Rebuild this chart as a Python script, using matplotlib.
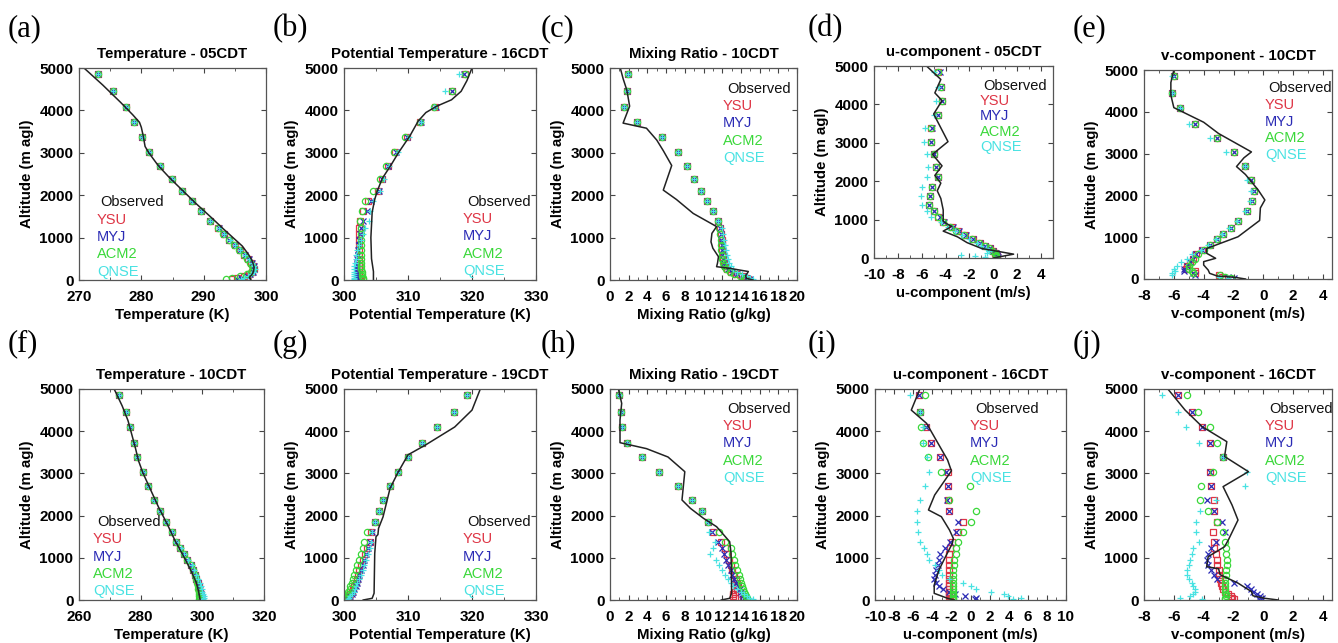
import matplotlib.pyplot as plt
from matplotlib.ticker import AutoMinorLocator

plt.rcParams['font.family'] = ['Liberation Sans', 'DejaVu Sans']
plt.rcParams['axes.unicode_minus'] = False

W, H = 1338, 643

# model levels (m agl)
Z = [4850, 4460, 4090, 3720, 3380, 3030, 2700, 2380, 2110, 1860, 1620, 1385,
     1225, 1080, 950, 820, 700, 590, 490, 400, 320, 250, 190, 135, 90, 50, 20]

# (a) temperature 05CDT
a_obs_z = [5000, 4600, 4200, 3900, 3720, 3600, 3400, 3150, 3000, 2700, 2400, 2100, 1800,
           1450, 1200, 1000, 800, 600, 450, 300, 200, 120, 60, 20, 0]
a_obs = [270.8, 273.8, 276.6, 278.6, 279.7, 280.0, 280.3, 280.6, 281.2, 282.7, 284.6, 286.7, 288.8,
         291.4, 293.2, 294.7, 296.2, 297.2, 297.8, 298.1, 298.0, 297.7, 297.3, 297.6, 297.5]
a_top = [273.0, 275.5, 277.6, 278.9, 280.1, 281.3, 283.0, 284.9, 286.6, 288.1, 289.6, 291.0]
a_ysu = a_top + [292.3, 293.2, 294.1, 295.0, 295.8, 296.5, 297.1, 297.6, 297.9, 298.0, 297.8, 297.3, 296.4, 295.4, 294.6]
a_myj = a_top + [292.4, 293.2, 294.1, 295.0, 295.8, 296.6, 297.2, 297.7, 298.0, 298.0, 297.9, 297.5, 296.9, 296.0, 295.4]
a_acm2 = a_top + [292.3, 293.1, 294.0, 294.9, 295.7, 296.4, 297.0, 297.5, 297.8, 297.9, 297.6, 297.0, 295.8, 294.5, 293.6]
a_qnse = a_top + [292.5, 293.3, 294.2, 295.1, 295.9, 296.7, 297.3, 297.8, 298.1, 298.2, 298.0, 297.6, 297.1, 296.4, 296.0]

# (b) potential temperature 16CDT
b_obs_z = [5000, 4700, 4450, 4250, 4100, 3950, 3750, 3400, 3000, 2700, 2400, 2100, 1900, 1600, 1000, 500, 200, 0]
b_obs = [320.0, 319.2, 318.3, 316.8, 314.5, 312.8, 311.6, 310.3, 308.5, 307.3, 306.0, 305.2, 304.8, 304.4, 304.2, 304.3, 304.6, 304.6]
b_ysu = [318.9, 316.9, 314.2, 311.9, 309.8, 308.0, 306.8, 305.9, 305.3, 303.8, 303.0, 302.5,
         302.4, 302.4, 302.4, 302.4, 302.4, 302.4, 302.4, 302.3, 302.3, 302.3, 302.3, 302.3, 302.4, 302.5, 302.6]
b_myj = [318.8, 316.8, 314.3, 312.0, 309.9, 308.1, 306.9, 306.0, 305.4, 304.2, 303.6, 303.0,
         302.6, 302.5, 302.4, 302.3, 302.2, 302.2, 302.1, 302.1, 302.0, 302.0, 302.0, 302.0, 302.1, 302.2, 302.3]
b_acm2 = [318.9, 316.9, 314.1, 311.8, 309.6, 307.8, 306.6, 305.7, 304.6, 303.3, 302.8, 302.5,
          302.6, 302.6, 302.6, 302.6, 302.6, 302.6, 302.7, 302.7, 302.7, 302.7, 302.8, 302.8, 302.8, 302.9, 302.9]
b_qnse = [318.0, 315.8, 314.0, 312.0, 310.2, 308.4, 307.1, 306.2, 305.6, 304.5, 304.0, 303.9,
          303.3, 302.9, 302.6, 302.3, 302.1, 301.9, 301.8, 301.7, 301.6, 301.5, 301.5, 301.5, 301.5, 301.6, 301.6]

# (c) mixing ratio 10CDT
c_obs_z = [5000, 4750, 4480, 4100, 3700, 3580, 3300, 3050, 2700, 2120, 1900, 1570, 1260, 1100,
           900, 750, 550, 400, 314, 275, 200, 100, 40, 0]
c_obs = [1.1, 1.4, 1.8, 2.1, 1.4, 3.9, 5.0, 5.7, 6.6, 5.7, 7.1, 8.9, 11.4, 10.9,
         10.8, 11.0, 11.6, 11.5, 11.4, 12.8, 14.8, 14.5, 14.6, 15.3]
c_top = [1.9, 1.8, 1.5, 2.9, 5.6, 7.3, 8.2, 9.0, 9.7, 10.4, 11.0, 11.5]
c_ysu = c_top + [11.8, 11.9, 12.0, 12.0, 12.0, 12.1, 12.1, 12.2, 12.3, 12.5, 12.9, 13.5, 14.1, 14.5, 14.8]
c_myj = c_top + [11.8, 11.9, 11.9, 12.0, 12.0, 12.0, 12.1, 12.2, 12.3, 12.6, 13.0, 13.6, 14.2, 14.7, 15.0]
c_acm2 = c_top + [11.7, 11.8, 11.9, 11.9, 11.9, 12.0, 12.0, 12.1, 12.2, 12.4, 12.8, 13.3, 13.9, 14.3, 14.5]
c_qnse = c_top + [12.0, 12.1, 12.2, 12.3, 12.4, 12.5, 12.6, 12.7, 12.9, 13.2, 13.6, 14.1, 14.6, 15.0, 15.3]

# (d) u-component 05CDT
d_obs_z = [5000, 4650, 4300, 4100, 3750, 3030, 2700, 2400, 2150, 1950, 1750, 1550, 1250,
           950, 820, 700, 550, 400, 250, 100, 0]
d_obs = [-5.6, -4.4, -4.9, -4.3, -5.0, -3.8, -5.1, -4.3, -4.9, -4.4, -4.7, -4.4, -4.2,
         -4.2, -3.5, -4.2, -3.0, -2.2, -1.0, 1.7, 0.0]
d_ysu = [-4.6, -4.4, -4.3, -4.6, -5.2, -5.2, -5.0, -4.8, -4.6, -5.1, -5.3, -5.4, -5.0, -4.6,
         -4.2, -3.5, -3.0, -2.4, -1.7, -1.1, -0.7, -0.3, 0.0, 0.1, 0.2, 0.3, 0.3]
d_myj = [-4.5, -4.4, -4.3, -4.6, -5.1, -5.2, -5.0, -4.8, -4.6, -5.1, -5.3, -5.4, -5.0, -4.5,
         -4.1, -3.4, -2.9, -2.3, -1.7, -1.1, -0.7, -0.3, 0.0, 0.2, 0.3, 0.3, 0.4]
d_acm2 = [-4.6, -4.4, -4.3, -4.6, -5.2, -5.2, -5.0, -4.8, -4.6, -5.1, -5.3, -5.4, -5.0, -4.6,
          -4.2, -3.6, -3.1, -2.5, -1.8, -1.2, -0.7, -0.4, -0.1, 0.1, 0.2, 0.2, 0.2]
d_qnse = [-5.0, -4.6, -4.8, -5.0, -5.7, -5.8, -5.6, -5.5, -5.6, -6.0, -6.1, -6.0, -5.6, -5.2,
          -4.4, -3.8, -3.2, -2.6, -2.0, -1.4, -1.0, -0.6, -0.4, -0.5, -2.7, -1.5, -0.7]

# (e) v-component 10CDT
e_obs_z = [5000, 4700, 4400, 4100, 3750, 3480, 3040, 2900, 2690, 2500, 2130, 1890, 1700, 1400,
           1010, 730, 615, 495, 415, 335, 215, 136, 72, 40, 0]
e_obs = [-6.0, -6.2, -6.2, -6.0, -4.0, -3.0, -0.8, -1.3, -1.8, -1.2, -0.35, 0.1, -0.2, -0.25,
         -1.7, -3.8, -3.8, -3.2, -4.0, -4.0, -3.7, -3.6, -3.1, -1.9, -1.2]
e_top = [-6.0, -6.1, -5.6, -4.6, -3.1, -1.95, -1.2, -0.8, -0.65, -0.75, -1.1, -1.7]
e_ysu = e_top + [-2.2, -2.7, -3.1, -3.6, -4.1, -4.5, -4.7, -4.9, -5.1, -5.2, -4.6, -4.6, -3.0, -2.8, -2.6]
e_myj = e_top + [-2.2, -2.7, -3.1, -3.6, -4.1, -4.5, -4.7, -4.9, -5.1, -5.3, -5.35, -4.7, -4.6, -2.4, -2.0]
e_acm2 = e_top + [-2.2, -2.7, -3.1, -3.6, -4.0, -4.4, -4.6, -4.8, -5.0, -5.0, -4.8, -4.7, -2.9, -2.6, -2.2]
e_qnse = [-6.1, -6.1, -5.6, -5.0, -3.6, -2.5, -1.2, -1.1, -0.8, -0.9, -1.2, -1.8,
          -2.3, -2.8, -3.2, -3.7, -4.2, -4.8, -5.1, -5.5, -5.8, -6.0, -5.9, -6.1, -6.1, -3.0, -2.4]

# (f) temperature 10CDT
f_obs_z = [5000, 4600, 4250, 3900, 3600, 3300, 3000, 2600, 2200, 1800, 1400, 1000, 700, 400, 200, 80, 0]
f_obs = [271.4, 274.0, 275.9, 277.2, 278.3, 279.3, 280.8, 283.3, 285.8, 288.6, 291.2, 294.2, 296.3,
         298.1, 298.8, 299.1, 299.3]
f_top = [272.9, 275.1, 276.5, 277.8, 278.9, 280.6, 282.5, 284.4, 286.3, 288.2, 290.1, 291.4]
f_ysu = f_top + [292.9, 294.0, 295.1, 296.3, 297.0, 297.6, 298.1, 298.5, 298.8, 299.0, 299.1, 299.2, 299.3, 299.4, 299.3]
f_myj = f_top + [292.9, 294.0, 295.1, 296.3, 297.0, 297.6, 298.1, 298.5, 298.9, 299.1, 299.3, 299.5, 299.7, 299.9, 300.0]
f_acm2 = f_top + [292.8, 293.9, 295.0, 296.2, 296.9, 297.5, 298.0, 298.4, 298.6, 298.7, 298.8, 298.9, 299.0, 299.1, 299.0]
f_qnse = f_top + [293.0, 294.1, 295.3, 296.5, 297.3, 298.0, 298.6, 299.1, 299.5, 299.8, 300.0, 300.2, 300.4, 300.5, 300.3]

# (g) potential temperature 19CDT
g_obs_z = [5000, 4500, 4100, 3670, 3440, 3040, 2650, 1970, 1700, 1550, 1500, 1100, 160, 40, 0]
g_obs = [321.3, 320.0, 317.3, 312.7, 310.0, 308.5, 307.2, 306.1, 305.4, 305.3, 305.0, 304.8, 304.7, 304.4, 303.0]
g_top = [319.2, 317.2, 314.6, 312.2, 310.0, 308.4, 307.2, 306.1, 305.5, 304.8]
g_ysu = g_top + [304.2, 304.0, 303.6, 303.3, 303.0, 302.7, 302.4, 302.2, 302.0, 301.8, 301.6, 301.4, 301.2, 301.0, 300.8, 300.6, 300.5]
g_myj = g_top + [304.3, 304.1, 303.8, 303.5, 303.2, 302.9, 302.6, 302.4, 302.2, 302.0, 301.8, 301.6, 301.4, 301.2, 301.0, 300.8, 300.6]
g_acm2 = g_top + [303.6, 303.1, 302.9, 302.6, 302.3, 302.0, 301.8, 301.6, 301.4, 301.2, 301.0, 300.9, 300.7, 300.6, 300.5, 300.4, 300.3]
g_qnse = g_top + [304.4, 304.2, 304.1, 303.8, 303.5, 303.2, 302.9, 302.6, 302.4, 302.1, 301.9, 301.7, 301.5, 301.2, 301.0, 300.8, 300.6]

# (h) mixing ratio 19CDT
h_obs_z = [5000, 4660, 4265, 3728, 3587, 3389, 3041, 2370, 2172, 1935, 1737, 1382, 1106, 395, 158, 40, 0]
h_obs = [0.9, 1.25, 1.07, 1.07, 3.9, 6.2, 8.0, 7.7, 8.6, 10.0, 11.4, 12.8, 12.95, 13.0, 13.0, 12.8, 11.9]
h_top = [1.0, 1.15, 1.25, 1.8, 3.4, 5.25, 7.3, 8.8, 9.8, 10.5]
h_ysu = h_top + [11.0, 11.9, 12.3, 12.5, 12.7, 12.9, 13.1, 13.3, 13.5, 13.6, 13.7, 13.6, 13.4, 13.2, 13.2, 13.4, 14.2]
h_myj = h_top + [10.9, 11.6, 12.0, 12.2, 12.4, 12.6, 12.9, 13.1, 13.3, 13.5, 13.7, 13.9, 14.0, 14.1, 14.2, 14.3, 14.5]
h_acm2 = h_top + [11.7, 12.3, 12.9, 13.1, 13.3, 13.4, 13.6, 13.8, 13.9, 14.0, 14.1, 14.2, 14.3, 14.4, 14.5, 14.6, 14.7]
h_qnse = h_top + [10.6, 11.2, 11.0, 10.7, 11.3, 11.7, 12.0, 12.3, 12.6, 12.9, 13.2, 13.6, 14.0, 14.3, 14.6, 14.9, 15.3]

# (i) u-component 16CDT
i_obs_z = [5000, 4500, 4186, 3712, 3318, 3060, 2488, 2133, 1974, 1658, 1461, 1342, 988, 711, 355, 158, 40, 0]
i_obs = [-5.3, -6.2, -4.6, -3.4, -2.4, -2.0, -3.75, -4.4, -3.05, -2.2, -1.8, -1.9, -2.7, -3.3, -3.8, -3.8, -2.4, -1.7]
i_ysu = [-5.4, -5.3, -4.7, -4.1, -3.15, -2.4, -2.35, -2.35, -2.2, -0.8, -1.3, -1.9, -2.1, -2.2, -2.2,
         -2.2, -2.3, -2.3, -2.3, -2.3, -2.3, -2.3, -2.3, -2.2, -2.2, -2.1, -2.1]
i_myj = [-5.4, -5.3, -4.7, -4.1, -3.15, -2.6, -2.35, -2.5, -2.2, -1.3, -1.5, -2.1, -2.7, -3.2, -3.3,
         -3.4, -3.6, -3.7, -3.8, -3.6, -3.3, -2.9, -2.3, -1.6, -0.6, 0.6, 0.5]
i_acm2 = [-4.75, -5.3, -5.2, -5.0, -4.45, -3.05, -0.1, -2.2, 0.6, 0.0, -0.8, -1.3, -1.5, -1.5, -1.7,
          -1.7, -1.8, -1.8, -1.8, -1.8, -1.8, -1.8, -1.8, -1.8, -1.8, -1.8, -1.8]
i_qnse = [-6.3, -5.3, -5.0, -5.0, -4.6, -4.3, -4.8, -5.3, -5.55, -5.65, -5.5, -5.25, -4.9, -4.6, -4.3,
          -3.7, -3.3, -3.0, -2.2, -0.8, 0.0, 0.6, 2.15, 3.5, 3.9, 5.3, 4.5]

# (j) v-component 16CDT
j_obs_z = [5000, 4502, 4107, 3752, 3400, 3041, 2686, 2251, 1895, 1421, 1263, 1027, 790, 740, 600, 400, 200, 100, 40, 0]
j_obs = [-6.4, -5.25, -4.1, -2.45, -2.6, -1.0, -2.7, -2.1, -1.7, -2.35, -2.6, -3.7, -3.8, -3.0, -2.9, -1.7, -0.8, -0.7, 0.1, 1.0]
j_ysu = [-5.7, -4.8, -4.1, -3.55, -2.7, -3.55, -3.5, -3.3, -3.3, -3.1, -3.4, -3.3, -3.3, -3.2, -3.1,
         -3.1, -3.0, -2.95, -2.9, -2.85, -2.8, -2.7, -2.6, -2.4, -2.2, -2.1, -2.0]
j_myj = [-5.7, -4.8, -4.1, -3.55, -2.7, -3.55, -3.5, -3.8, -3.3, -2.75, -2.6, -3.2, -3.5, -3.7, -3.8,
         -3.7, -3.5, -3.3, -3.1, -2.0, -1.1, -0.8, -0.7, -0.4, -0.2, -0.1, -0.3]
j_acm2 = [-5.15, -4.35, -3.55, -3.1, -2.7, -3.4, -4.15, -4.25, -3.7, -3.1, -2.7, -2.6, -2.5, -2.5, -2.45,
          -2.45, -2.5, -2.5, -2.55, -2.55, -2.6, -2.6, -2.55, -2.5, -2.5, -2.55, -2.55]
j_qnse = [-6.8, -5.7, -5.2, -4.3, -2.7, -1.1, -1.2, -3.2, -4.25, -4.5, -4.5, -4.3, -4.7, -4.8, -4.9,
          -5.0, -5.1, -5.1, -5.0, -4.8, -4.7, -4.6, -4.6, -4.7, -4.9, -5.6, -4.1]

SCHEMES = ['YSU', 'MYJ', 'ACM2', 'QNSE']
COLORS = {'YSU': '#de3545', 'MYJ': '#2b2bb5', 'ACM2': '#3ad83a', 'QNSE': '#48e2e2'}
MARKERS = {'YSU': 's', 'MYJ': 'x', 'ACM2': 'o', 'QNSE': '+'}

# tag, title, xlabel, xlim, xticks, axes box (l, t, r, b px), legend (x_obs, x, y0, dy) px
panels = [
    ('(a)', 'Temperature - 05CDT', 'Temperature (K)', (270, 300), range(270, 301, 10),
     (79, 68, 266, 280), (100, 97, 202, 17.5), a_obs_z, a_obs, [a_ysu, a_myj, a_acm2, a_qnse]),
    ('(b)', 'Potential Temperature - 16CDT', 'Potential Temperature (K)', (300, 330), range(300, 331, 10),
     (344, 68, 536, 280), (467, 463, 202, 17.2), b_obs_z, b_obs, [b_ysu, b_myj, b_acm2, b_qnse]),
    ('(c)', 'Mixing Ratio - 10CDT', 'Mixing Ratio (g/kg)', (0, 20), range(0, 21, 2),
     (610, 68, 797, 280), (727, 723, 89, 17.2), c_obs_z, c_obs, [c_ysu, c_myj, c_acm2, c_qnse]),
    ('(d)', 'u-component - 05CDT', 'u-component (m/s)', (-10, 5), range(-10, 5, 2),
     (874, 66, 1053, 258), (983, 980, 86, 15.2), d_obs_z, d_obs, [d_ysu, d_myj, d_acm2, d_qnse]),
    ('(e)', 'v-component - 10CDT', 'v-component (m/s)', (-8, 4.6), range(-8, 5, 2),
     (1144, 70, 1332, 279), (1268, 1265, 88, 16.8), e_obs_z, e_obs, [e_ysu, e_myj, e_acm2, e_qnse]),
    ('(f)', 'Temperature - 10CDT', 'Temperature (K)', (260, 320), range(260, 321, 20),
     (79, 389, 264, 600), (97, 93, 522, 17.3), f_obs_z, f_obs, [f_ysu, f_myj, f_acm2, f_qnse]),
    ('(g)', 'Potential Temperature - 19CDT', 'Potential Temperature (K)', (300, 330), range(300, 331, 10),
     (344, 389, 536, 600), (467, 463, 522, 17.3), g_obs_z, g_obs, [g_ysu, g_myj, g_acm2, g_qnse]),
    ('(h)', 'Mixing Ratio - 19CDT', 'Mixing Ratio (g/kg)', (0, 20), range(0, 21, 2),
     (610, 389, 797, 600), (727, 723, 409, 17.2), h_obs_z, h_obs, [h_ysu, h_myj, h_acm2, h_qnse]),
    ('(i)', 'u-component - 16CDT', 'u-component (m/s)', (-10, 10), range(-10, 11, 2),
     (875, 389, 1066, 600), (975, 970, 409, 17.2), i_obs_z, i_obs, [i_ysu, i_myj, i_acm2, i_qnse]),
    ('(j)', 'v-component - 16CDT', 'v-component (m/s)', (-8, 4.6), range(-8, 5, 2),
     (1144, 389, 1332, 600), (1269, 1265, 409, 17.2), j_obs_z, j_obs, [j_ysu, j_myj, j_acm2, j_qnse]),
]

fig = plt.figure(figsize=(W / 100, H / 100), dpi=100)

for tag, title, xlabel, xlim, xticks, box, leg, obs_z, obs, runs in panels:
    l, t, r, b = box
    ax = fig.add_axes([l / W, 1 - b / H, (r - l) / W, (b - t) / H])

    for name, vals in zip(SCHEMES, runs):
        c = COLORS[name]
        if MARKERS[name] in 'so':
            ax.plot(vals, Z, MARKERS[name], ls='none', ms=4.5, mfc='none', mec=c, mew=0.9)
        else:
            ax.plot(vals, Z, MARKERS[name], ls='none', ms=4.8, color=c, mew=0.9)
    ax.plot(obs, obs_z, '-', color='#222222', lw=1.1)

    ax.set_xlim(*xlim)
    ax.set_ylim(0, 5000)
    ax.set_xticks(list(xticks))
    ax.set_yticks(range(0, 5001, 1000))
    ax.xaxis.set_minor_locator(AutoMinorLocator(2))
    ax.tick_params(which='both', direction='in', top=True, right=True,
                   labelsize=11, color='#444444')
    ax.tick_params(axis='x', pad=7)
    ax.tick_params(axis='y', pad=4)
    ax.tick_params(which='major', length=3.5)
    ax.tick_params(which='minor', length=2)
    for lab in ax.get_xticklabels() + ax.get_yticklabels():
        lab.set_fontweight('bold')
    for sp in ax.spines.values():
        sp.set_color('#555555')
        sp.set_linewidth(0.9)

    ax.set_title(title, fontsize=10.8, fontweight='bold', pad=7)
    ax.set_xlabel(xlabel, fontsize=10.8, fontweight='bold', labelpad=3)
    ax.set_ylabel('Altitude (m agl)', fontsize=10.8, fontweight='bold', labelpad=4)

    # text legend
    x_obs, x_lab, y0, dy = leg
    fig.text(x_obs / W, 1 - y0 / H, 'Observed', color='#111111', fontsize=10.5, va='center')
    for k, name in enumerate(SCHEMES):
        fig.text(x_lab / W, 1 - (y0 + (k + 1) * dy) / H, name, color=COLORS[name],
                 fontsize=10.5, va='center')

    # panel tag
    tx = {79: 8, 344: 273, 610: 541, 874: 808, 875: 808, 1144: 1073}[l]
    ty = 29 if t < 200 else 344
    fig.text(tx / W, 1 - ty / H, tag, family=['Liberation Serif', 'DejaVu Serif'],
             fontsize=22, va='center', ha='left')

fig.savefig('out.png', dpi=100)
